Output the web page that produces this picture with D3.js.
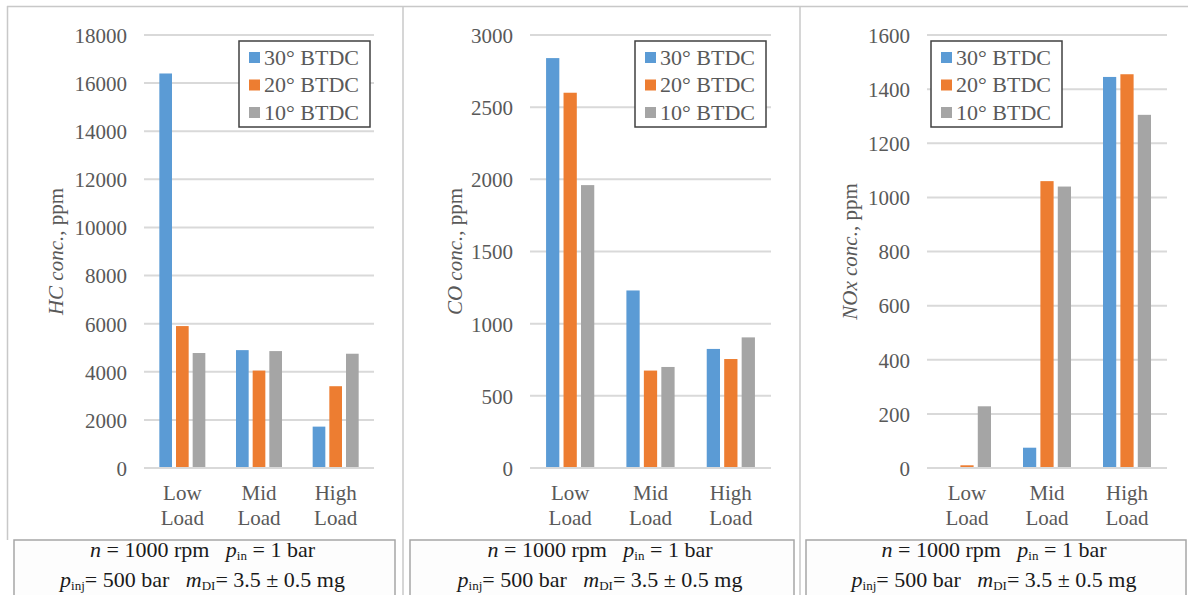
<!DOCTYPE html>
<html>
<head>
<meta charset="utf-8">
<script src="https://cdn.jsdelivr.net/npm/d3@7"></script>
<style>
  html, body { margin: 0; padding: 0; background: #ffffff; }
</style>
</head>
<body>
<svg id="chart" width="1188" height="595"></svg>
<script>
// ---------- data ----------
const categories = ["Low Load", "Mid Load", "High Load"];
const seriesNames = ["30° BTDC", "20° BTDC", "10° BTDC"];
const seriesColors = ["#5B9BD5", "#ED7D31", "#A5A5A5"];

// values per series: [Low, Mid, High]
const hc30 = [16400, 4900, 1720];
const hc20 = [5900, 4050, 3400];
const hc10 = [4780, 4860, 4750];

const co30 = [2840, 1230, 825];
const co20 = [2600, 675, 755];
const co10 = [1960, 700, 905];

const nox30 = [0, 75, 1445];
const nox20 = [10, 1060, 1455];
const nox10 = [228, 1040, 1305];

const hcTicks = [0, 2000, 4000, 6000, 8000, 10000, 12000, 14000, 16000, 18000];
const coTicks = [0, 500, 1000, 1500, 2000, 2500, 3000];
const noxTicks = [0, 200, 400, 600, 800, 1000, 1200, 1400, 1600];

const titleSpecies = ["HC", "CO", "NOx"];

// ---------- layout ----------
const FONT = "Liberation Serif";
const svg = d3.select("#chart").attr("font-family", FONT);
const yTop = 35, yBottom = 468;

const panels = [
  { values: [hc30, hc20, hc10], ticks: hcTicks, species: titleSpecies[0],
    x0: 144, x1: 374, titleX: 56, legendX: 239, boxX0: 14, boxX1: 395 },
  { values: [co30, co20, co10], ticks: coTicks, species: titleSpecies[1],
    x0: 530, x1: 771, titleX: 455, legendX: 635, boxX0: 410, boxX1: 794 },
  { values: [nox30, nox20, nox10], ticks: noxTicks, species: titleSpecies[2],
    x0: 927, x1: 1167, titleX: 850, legendX: 931, boxX0: 806, boxX1: 1186 }
];

// frame lines
svg.append("line").attr("x1", 7).attr("x2", 1188).attr("y1", 6.5).attr("y2", 6.5)
  .attr("stroke", "#c8c8c8").attr("stroke-width", 1.5);
svg.append("line").attr("x1", 7.5).attr("x2", 7.5).attr("y1", 6).attr("y2", 540)
  .attr("stroke", "#c8c8c8").attr("stroke-width", 1.5);
[403, 800].forEach(x => {
  svg.append("line").attr("x1", x).attr("x2", x).attr("y1", 6).attr("y2", 595)
    .attr("stroke", "#c8c8c8").attr("stroke-width", 1.5);
});

panels.forEach(p => {
  const g = svg.append("g");
  const maxTick = p.ticks[p.ticks.length - 1];
  const y = d3.scaleLinear().domain([0, maxTick]).range([yBottom, yTop]);
  const x = d3.scaleBand().domain(categories).range([p.x0, p.x1]).padding(0);
  const bw = x.bandwidth();
  const inner = d3.scaleBand().domain(seriesNames)
    .range([bw * 0.2, bw * 0.8]).paddingInner(0.24).paddingOuter(0);

  // gridlines
  g.append("g").selectAll("line").data(p.ticks).join("line")
    .attr("x1", p.x0).attr("x2", p.x1)
    .attr("y1", d => y(d)).attr("y2", d => y(d))
    .attr("stroke", "#d9d9d9").attr("stroke-width", 2);

  // y axis labels via d3 axis
  const yAxis = d3.axisLeft(y).tickValues(p.ticks).tickSize(0).tickPadding(0)
    .tickFormat(d3.format("d"));
  const ya = g.append("g").attr("transform", `translate(${p.x0 - 17},0)`).call(yAxis);
  ya.attr("font-family", FONT).attr("font-size", 21);
  ya.select(".domain").remove();
  ya.selectAll("text").attr("font-size", 21).attr("fill", "#595959")
    .attr("font-family", FONT).attr("dy", "0.35em");

  // bars
  seriesNames.forEach((s, si) => {
    g.append("g").selectAll("rect").data(p.values[si]).join("rect")
      .attr("x", (d, i) => x(categories[i]) + inner(s))
      .attr("width", inner.bandwidth())
      .attr("y", d => y(d))
      .attr("height", d => Math.max(0, yBottom - y(d)))
      .attr("fill", seriesColors[si]);
  });

  // x axis line (0 gridline on top of bars)
  g.append("line").attr("x1", p.x0).attr("x2", p.x1)
    .attr("y1", y(0)).attr("y2", y(0)).attr("stroke", "#d9d9d9").attr("stroke-width", 2);

  // category labels
  const xl = g.append("g");
  categories.forEach(c => {
    const parts = c.split(" ");
    const t = xl.append("text").attr("text-anchor", "middle")
      .attr("font-size", 21).attr("fill", "#595959").attr("font-family", FONT)
      .attr("x", x(c) + bw / 2).attr("y", 500);
    t.append("tspan").attr("x", x(c) + bw / 2).text(parts[0]);
    t.append("tspan").attr("x", x(c) + bw / 2).attr("dy", 25).text(parts[1]);
  });

  // y axis title
  const tt = g.append("text")
    .attr("transform", `translate(${p.titleX},${(yTop + yBottom) / 2}) rotate(-90)`)
    .attr("text-anchor", "middle").attr("font-size", 21).attr("fill", "#595959")
    .attr("font-family", FONT).attr("dy", "0.35em");
  tt.append("tspan").attr("font-style", "italic").text(p.species + " conc.");
  tt.append("tspan").text(", ppm");

  // legend
  const lg = g.append("g").attr("transform", `translate(${p.legendX},41)`);
  lg.append("rect").attr("x", 0).attr("y", 0).attr("width", 131).attr("height", 86)
    .attr("fill", "#ffffff").attr("stroke", "#404040").attr("stroke-width", 1.5);
  seriesNames.forEach((s, si) => {
    const cy = 16 + si * 27.5;
    lg.append("rect").attr("x", 10).attr("y", cy - 5).attr("width", 11).attr("height", 11)
      .attr("fill", seriesColors[si]);
    lg.append("text").attr("x", 25).attr("y", cy).attr("dy", "0.35em")
      .attr("font-size", 22).attr("fill", "#595959").attr("font-family", FONT).text(s);
  });

  // bottom condition box
  const bx = g.append("g");
  bx.append("rect").attr("x", p.boxX0).attr("y", 540).attr("width", p.boxX1 - p.boxX0)
    .attr("height", 70).attr("fill", "#fdfdfd").attr("stroke", "#a6a6a6").attr("stroke-width", 1.5);
  const cx = (p.boxX0 + p.boxX1) / 2 - 2;
  const l1 = bx.append("text").attr("x", cx).attr("y", 557).attr("text-anchor", "middle")
    .attr("font-size", 22).attr("fill", "#1a1a1a").attr("font-family", FONT);
  l1.append("tspan").attr("font-style", "italic").text("n");
  l1.append("tspan").text(" = 1000 rpm\u00a0\u00a0\u00a0");
  l1.append("tspan").attr("font-style", "italic").text("p");
  l1.append("tspan").attr("font-size", 13).attr("dy", 3).text("in");
  l1.append("tspan").attr("dy", -3).text(" = 1 bar");
  const l2 = bx.append("text").attr("x", cx).attr("y", 587).attr("text-anchor", "middle")
    .attr("font-size", 22).attr("fill", "#1a1a1a").attr("font-family", FONT);
  l2.append("tspan").attr("font-style", "italic").text("p");
  l2.append("tspan").attr("font-size", 13).attr("dy", 3).text("inj");
  l2.append("tspan").attr("dy", -3).text("= 500 bar\u00a0\u00a0\u00a0");
  l2.append("tspan").attr("font-style", "italic").text("m");
  l2.append("tspan").attr("font-size", 13).attr("dy", 3).text("DI");
  l2.append("tspan").attr("dy", -3).text("= 3.5 ± 0.5 mg");
});
</script>
</body>
</html>
